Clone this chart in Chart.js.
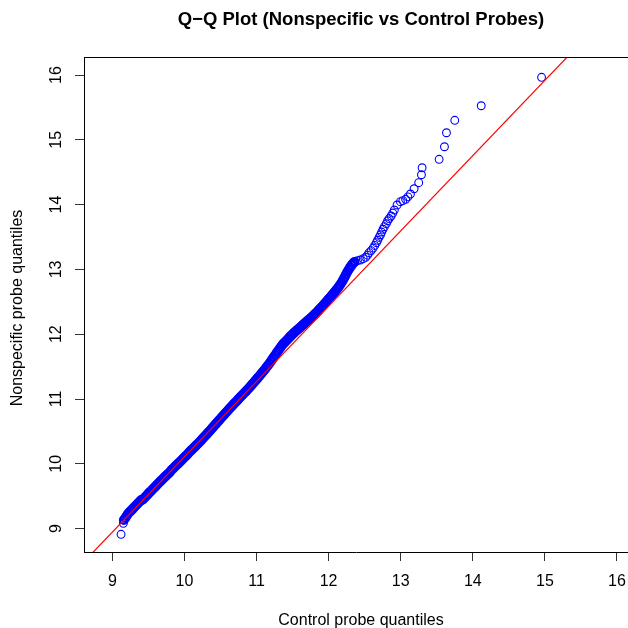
<!DOCTYPE html>
<html>
<head>
<meta charset="utf-8">
<script src="https://cdn.jsdelivr.net/npm/chart.js@4"></script>
<style>
  html, body { margin: 0; padding: 0; background: #fff; overflow: hidden; }
  canvas { display: block; }
</style>
</head>
<body>
<canvas id="qqChart" width="628" height="628"></canvas>
<script>
// Sorted quantiles (control probes on x, nonspecific on y)
const controlQuantiles = [
  9.121, 9.153,
  9.16, 9.18, 9.20, 9.22, 9.24, 9.26, 9.28, 9.30, 9.32, 9.34,
  9.36, 9.38, 9.40, 9.42, 9.44, 9.46, 9.48, 9.50, 9.52, 9.54,
  9.56, 9.58, 9.60, 9.62, 9.64, 9.66, 9.68, 9.70, 9.72, 9.74,
  9.76, 9.78, 9.80, 9.82, 9.84, 9.86, 9.88, 9.90, 9.92, 9.94,
  9.96, 9.98, 10.00, 10.02, 10.04, 10.06, 10.08, 10.10, 10.12, 10.14,
  10.16, 10.18, 10.20, 10.22, 10.24, 10.26, 10.28, 10.30, 10.32, 10.34,
  10.36, 10.38, 10.40, 10.42, 10.44, 10.46, 10.48, 10.50, 10.52, 10.54,
  10.56, 10.58, 10.60, 10.62, 10.64, 10.66, 10.68, 10.70, 10.72, 10.74,
  10.76, 10.78, 10.80, 10.82, 10.84, 10.86, 10.88, 10.90, 10.92, 10.94,
  10.96, 10.98, 11.00, 11.02, 11.04, 11.06, 11.08, 11.10, 11.12, 11.14,
  11.16, 11.18, 11.20, 11.22, 11.24, 11.26, 11.28, 11.30, 11.32, 11.34,
  11.36, 11.38, 11.40, 11.42, 11.44, 11.46, 11.48, 11.50, 11.52, 11.54,
  11.56, 11.58, 11.60, 11.62, 11.64, 11.66, 11.68, 11.70, 11.72, 11.74,
  11.76, 11.78, 11.80, 11.82, 11.84, 11.86, 11.88, 11.90, 11.92, 11.94,
  11.96, 11.98, 12.00, 12.02, 12.04, 12.06, 12.08, 12.10, 12.12, 12.14,
  12.16, 12.18, 12.20, 12.22, 12.24, 12.26, 12.28, 12.30, 12.32, 12.34, 12.36,
  12.40, 12.44, 12.48, 12.514, 12.54, 12.561, 12.59, 12.617, 12.64, 12.663,
  12.68, 12.70, 12.72, 12.736, 12.755, 12.774, 12.80, 12.819, 12.84, 12.867,
  12.89, 12.912, 12.95, 12.996, 13.03, 13.069, 13.10, 13.135, 13.186, 13.25,
  13.288, 13.297, 13.533, 13.607, 13.635, 13.75, 14.117, 14.954
];
const nonspecificQuantiles = [
  8.912, 9.082,
  9.132, 9.165, 9.198, 9.232, 9.255, 9.278, 9.301, 9.325, 9.348, 9.371,
  9.394, 9.418, 9.441, 9.446, 9.468, 9.492, 9.516, 9.540, 9.563, 9.585,
  9.608, 9.630, 9.652, 9.676, 9.700, 9.722, 9.744, 9.766, 9.788, 9.810,
  9.831, 9.852, 9.873, 9.904, 9.925, 9.947, 9.969, 9.990, 10.011, 10.033,
  10.055, 10.077, 10.100, 10.122, 10.144, 10.170, 10.193, 10.215, 10.237, 10.258,
  10.281, 10.303, 10.326, 10.349, 10.373, 10.397, 10.421, 10.445, 10.470, 10.495,
  10.519, 10.545, 10.570, 10.595, 10.620, 10.645, 10.670, 10.695, 10.721, 10.746,
  10.771, 10.796, 10.820, 10.845, 10.869, 10.893, 10.917, 10.941, 10.962, 10.987,
  11.011, 11.036, 11.058, 11.080, 11.103, 11.126, 11.151, 11.175, 11.200, 11.226,
  11.252, 11.278, 11.303, 11.330, 11.356, 11.383, 11.410, 11.437, 11.463, 11.493,
  11.522, 11.552, 11.584, 11.616, 11.647, 11.680, 11.712, 11.744, 11.775, 11.806,
  11.836, 11.862, 11.885, 11.908, 11.931, 11.955, 11.978, 12.000, 12.021, 12.041,
  12.061, 12.081, 12.100, 12.120, 12.140, 12.160, 12.180, 12.200, 12.219, 12.239,
  12.258, 12.278, 12.299, 12.321, 12.344, 12.368, 12.392, 12.416, 12.440, 12.465,
  12.490, 12.516, 12.542, 12.567, 12.593, 12.620, 12.647, 12.674, 12.702, 12.731,
  12.763, 12.797, 12.835, 12.877, 12.920, 12.962, 13.000, 13.035, 13.066, 13.094, 13.116,
  13.135, 13.145, 13.165, 13.187, 13.22, 13.258, 13.29, 13.33, 13.37, 13.412,
  13.45, 13.495, 13.535, 13.577, 13.62, 13.659, 13.705, 13.751, 13.785, 13.824,
  13.87, 13.917, 13.994, 14.045, 14.06, 14.082, 14.12, 14.164, 14.245, 14.338,
  14.461, 14.569, 14.699, 14.893, 15.109, 15.301, 15.526, 15.965
];

// qqline ends (well past the plot box, clipped by the chart area)
const refLineX = [8.5, 16.5];
const refLineY = [8.365, 17.661];

const xTickValues = [9, 10, 11, 12, 13, 14, 15, 16];
const yTickValues = [9, 10, 11, 12, 13, 14, 15, 16];

const mainTitle = 'Q\u2212Q Plot (Nonspecific vs Control Probes)';
const xTitle = 'Control probe quantiles';
const yTitle = 'Nonspecific probe quantiles';

const FONT = '"Liberation Sans", Arial, Helvetica, sans-serif';

// Tick labels, titles and the top edge of the box
const frameAndText = {
  id: 'frameAndText',
  afterDraw(chart) {
    const { ctx, chartArea, scales } = chart;
    ctx.save();
    ctx.strokeStyle = '#000';
    ctx.lineWidth = 1;
    ctx.beginPath();
    ctx.moveTo(chartArea.left, chartArea.top + 0.5);
    ctx.lineTo(chartArea.right, chartArea.top + 0.5);
    ctx.stroke();

    ctx.fillStyle = '#000';
    ctx.textAlign = 'center';
    ctx.textBaseline = 'middle';
    ctx.font = '16px ' + FONT;
    xTickValues.forEach(v => {
      ctx.fillText(String(v), scales.x.getPixelForValue(v), 582);
    });
    yTickValues.forEach(v => {
      ctx.save();
      ctx.translate(57, scales.y.getPixelForValue(v));
      ctx.rotate(-Math.PI / 2);
      ctx.fillText(String(v), 0, 0);
      ctx.restore();
    });

    ctx.fillText(xTitle, 361, 621);
    ctx.save();
    ctx.translate(18, 308);
    ctx.rotate(-Math.PI / 2);
    ctx.fillText(yTitle, 0, 0);
    ctx.restore();

    ctx.font = 'bold 18.5px ' + FONT;
    ctx.fillText(mainTitle, 361, 20);
    ctx.restore();
  }
};

// the dense body overlaps into a solid band; the two low points and the upper tail show single rings
const BODY_START = 9.155;
const TAIL_START = 12.38;
const points = controlQuantiles.map((x, i) => ({ x: x, y: nonspecificQuantiles[i] }));
const bodyPoints = points.filter(p => p.x >= BODY_START && p.x < TAIL_START);
const ringPoints = points.filter(p => p.x < BODY_START || p.x >= TAIL_START);
const refLine = refLineX.map((x, i) => ({ x: x, y: refLineY[i] }));

const axisCommon = {
  type: 'linear',
  ticks: { display: false, stepSize: 1, includeBounds: false },
  grid: { drawOnChartArea: false, drawTicks: true, tickLength: 9, color: '#333' },
  border: { display: true, color: '#000', width: 1 }
};

new Chart(document.getElementById('qqChart').getContext('2d'), {
  type: 'scatter',
  data: {
    datasets: [
      {
        label: 'qqline',
        type: 'line',
        data: refLine,
        borderColor: '#ff0000',
        borderWidth: 1.2,
        pointRadius: 0,
        fill: false,
        order: 0
      },
      {
        label: 'body',
        data: bodyPoints,
        pointStyle: 'circle',
        pointRadius: 3.8,
        pointBorderWidth: 2.4,
        borderColor: '#0000ff',
        backgroundColor: 'rgba(0,0,0,0)',
        order: 1
      },
      {
        label: 'rings',
        data: ringPoints,
        pointStyle: 'circle',
        pointRadius: 3.9,
        pointBorderWidth: 1.1,
        borderColor: '#0000ff',
        backgroundColor: 'rgba(0,0,0,0)',
        order: 2
      }
    ]
  },
  options: {
    responsive: false,
    animation: false,
    devicePixelRatio: 1,
    layout: { autoPadding: false, padding: { left: 0, right: 0, top: 57, bottom: 0 } },
    scales: {
      x: Object.assign({}, axisCommon, {
        min: 8.607, max: 16.153,
        afterFit: scale => { scale.height = 76; }
      }),
      y: Object.assign({}, axisCommon, {
        min: 8.639, max: 16.278,
        afterFit: scale => { scale.width = 84; }
      })
    },
    plugins: {
      legend: { display: false },
      tooltip: { enabled: false }
    }
  },
  plugins: [frameAndText]
});
</script>
</body>
</html>
